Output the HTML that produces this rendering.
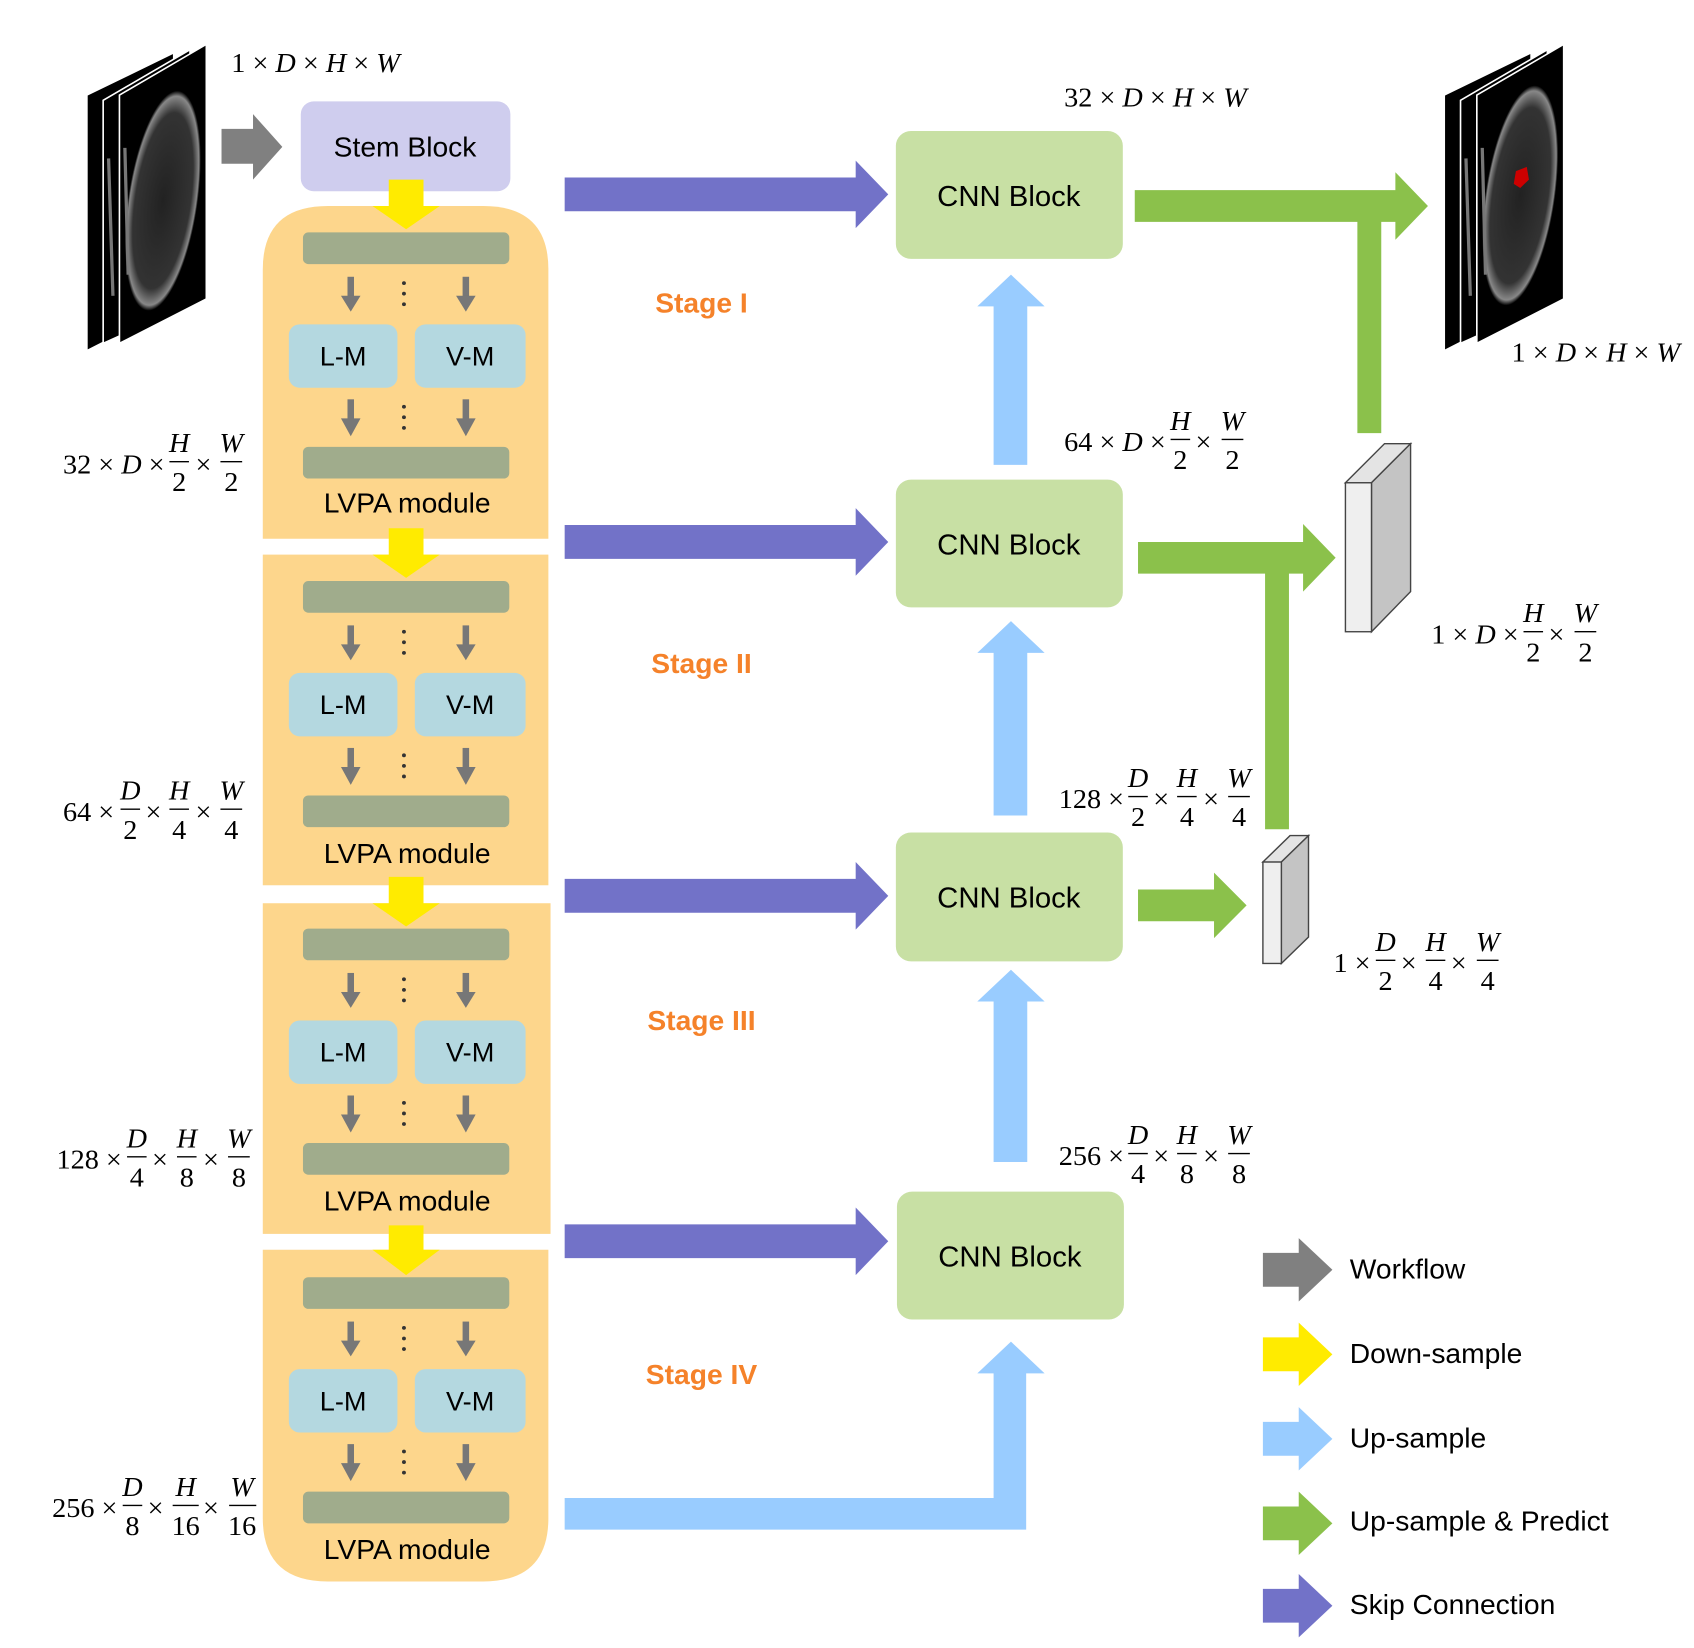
<!DOCTYPE html>
<html><head><meta charset="utf-8"><style>
html,body{margin:0;padding:0;background:#fff;}
svg{display:block;}
.s{font-family:"Liberation Sans",sans-serif;fill:#000;}
.m{font-family:"Liberation Serif",serif;font-size:26px;fill:#000;}
.i{font-style:italic;}
.st{font-family:"Liberation Sans",sans-serif;font-weight:bold;font-size:26px;fill:#f5822a;}
</style></head><body>
<svg width="1694" height="1648" viewBox="0 0 1560 1560" preserveAspectRatio="none" xmlns="http://www.w3.org/2000/svg">
<defs>
<radialGradient id="hd" cx="0.5" cy="0.5" r="0.5"><stop offset="0" stop-color="#222"/><stop offset="0.8" stop-color="#333"/><stop offset="0.95" stop-color="#888"/><stop offset="1" stop-color="#000"/></radialGradient>
</defs>
<!-- left MRI -->
<polygon points="80,90 160,50 160,290 80,332" fill="#000" stroke="#fff" stroke-width="1.5"/>
<polygon points="95,95 175,47 175,288 95,325" fill="#000" stroke="#fff" stroke-width="1.5"/>
<polygon points="110,90 190,42 190,283 110,325" fill="#000" stroke="#fff" stroke-width="1.5"/>
<ellipse cx="150" cy="190" rx="32" ry="105" fill="url(#hd)" transform="rotate(8 150 190)"/>
<path d="M100 150 L104 280 M115 140 L118 260" stroke="#777" stroke-width="3"/>
<!-- right MRI -->
<polygon points="1330,90 1410,50 1410,290 1330,332" fill="#000" stroke="#fff" stroke-width="1.5"/>
<polygon points="1345,95 1425,47 1425,288 1345,325" fill="#000" stroke="#fff" stroke-width="1.5"/>
<polygon points="1360,90 1440,42 1440,283 1360,325" fill="#000" stroke="#fff" stroke-width="1.5"/>
<ellipse cx="1400" cy="185" rx="32" ry="105" fill="url(#hd)" transform="rotate(8 1400 185)"/>
<path d="M1350 150 L1354 280 M1365 140 L1368 260" stroke="#777" stroke-width="3"/>
<polygon points="1396,162 1406,158 1408,170 1400,178 1394,174" fill="#c00"/>

<!-- gray workflow arrow -->
<polygon points="204,122 233,122 233,108 260,139 233,170 233,155 204,155" fill="#808080"/>
<!-- stem -->
<rect x="277" y="96" width="193" height="85" rx="12" fill="#cfcdee"/>
<text class="s" x="373" y="148" font-size="26" text-anchor="middle">Stem Block</text>

<!-- LVPA stages -->
<path d="M242 510 L242 255 Q242 195 302 195 L445 195 Q505 195 505 255 L505 510 Z" fill="#fdd68c"/>
<rect x="242" y="525" width="263" height="313" fill="#fdd68c"/>
<rect x="242" y="855" width="265" height="313" fill="#fdd68c"/>
<path d="M242 1183 L505 1183 L505 1437 Q505 1497 445 1497 L302 1497 Q242 1497 242 1437 Z" fill="#fdd68c"/>

<!-- yellow arrows -->
<g fill="#ffeb00">
<polygon points="358,170 390,170 390,195 405,195 374,217 343,195 358,195"/>
<polygon points="358,500 390,500 390,525 405,525 374,547 343,525 358,525"/>
<polygon points="358,830 390,830 390,855 405,855 374,877 343,855 358,855"/>
<polygon points="358,1160 390,1160 390,1183 405,1183 374,1207 343,1183 358,1183"/>
</g>

<g>
<rect x="279" y="220" width="190" height="30" rx="5" fill="#a0ac8c"/>
<g fill="#777"><rect x="320" y="262" width="6" height="20"/><polygon points="314,280 332,280 323,295"/><rect x="426" y="262" width="6" height="20"/><polygon points="420,280 438,280 429,295"/>
<circle cx="372" cy="268" r="1.8" fill="#333"/><circle cx="372" cy="278" r="1.8" fill="#333"/><circle cx="372" cy="288" r="1.8" fill="#333"/>
<rect x="320" y="378" width="6" height="20"/><polygon points="314,396 332,396 323,413"/><rect x="426" y="378" width="6" height="20"/><polygon points="420,396 438,396 429,413"/>
<circle cx="372" cy="385" r="1.8" fill="#333"/><circle cx="372" cy="395" r="1.8" fill="#333"/><circle cx="372" cy="405" r="1.8" fill="#333"/></g>
<rect x="266" y="307" width="100" height="60" rx="10" fill="#b4d8e0"/>
<rect x="382" y="307" width="102" height="60" rx="10" fill="#b4d8e0"/>
<text class="s" x="316" y="346" font-size="25" text-anchor="middle">L-M</text>
<text class="s" x="433" y="346" font-size="25" text-anchor="middle">V-M</text>
<rect x="279" y="423" width="190" height="30" rx="5" fill="#a0ac8c"/>
<text class="s" x="375" y="485" font-size="26" text-anchor="middle">LVPA module</text>
</g>
<g transform="translate(0,330)">
<rect x="279" y="220" width="190" height="30" rx="5" fill="#a0ac8c"/>
<g fill="#777"><rect x="320" y="262" width="6" height="20"/><polygon points="314,280 332,280 323,295"/><rect x="426" y="262" width="6" height="20"/><polygon points="420,280 438,280 429,295"/>
<circle cx="372" cy="268" r="1.8" fill="#333"/><circle cx="372" cy="278" r="1.8" fill="#333"/><circle cx="372" cy="288" r="1.8" fill="#333"/>
<rect x="320" y="378" width="6" height="20"/><polygon points="314,396 332,396 323,413"/><rect x="426" y="378" width="6" height="20"/><polygon points="420,396 438,396 429,413"/>
<circle cx="372" cy="385" r="1.8" fill="#333"/><circle cx="372" cy="395" r="1.8" fill="#333"/><circle cx="372" cy="405" r="1.8" fill="#333"/></g>
<rect x="266" y="307" width="100" height="60" rx="10" fill="#b4d8e0"/>
<rect x="382" y="307" width="102" height="60" rx="10" fill="#b4d8e0"/>
<text class="s" x="316" y="346" font-size="25" text-anchor="middle">L-M</text>
<text class="s" x="433" y="346" font-size="25" text-anchor="middle">V-M</text>
<rect x="279" y="423" width="190" height="30" rx="5" fill="#a0ac8c"/>
<text class="s" x="375" y="487" font-size="26" text-anchor="middle">LVPA module</text>
</g>
<g transform="translate(0,659)">
<rect x="279" y="220" width="190" height="30" rx="5" fill="#a0ac8c"/>
<g fill="#777"><rect x="320" y="262" width="6" height="20"/><polygon points="314,280 332,280 323,295"/><rect x="426" y="262" width="6" height="20"/><polygon points="420,280 438,280 429,295"/>
<circle cx="372" cy="268" r="1.8" fill="#333"/><circle cx="372" cy="278" r="1.8" fill="#333"/><circle cx="372" cy="288" r="1.8" fill="#333"/>
<rect x="320" y="378" width="6" height="20"/><polygon points="314,396 332,396 323,413"/><rect x="426" y="378" width="6" height="20"/><polygon points="420,396 438,396 429,413"/>
<circle cx="372" cy="385" r="1.8" fill="#333"/><circle cx="372" cy="395" r="1.8" fill="#333"/><circle cx="372" cy="405" r="1.8" fill="#333"/></g>
<rect x="266" y="307" width="100" height="60" rx="10" fill="#b4d8e0"/>
<rect x="382" y="307" width="102" height="60" rx="10" fill="#b4d8e0"/>
<text class="s" x="316" y="346" font-size="25" text-anchor="middle">L-M</text>
<text class="s" x="433" y="346" font-size="25" text-anchor="middle">V-M</text>
<rect x="279" y="423" width="190" height="30" rx="5" fill="#a0ac8c"/>
<text class="s" x="375" y="487" font-size="26" text-anchor="middle">LVPA module</text>
</g>
<g transform="translate(0,989)">
<rect x="279" y="220" width="190" height="30" rx="5" fill="#a0ac8c"/>
<g fill="#777"><rect x="320" y="262" width="6" height="20"/><polygon points="314,280 332,280 323,295"/><rect x="426" y="262" width="6" height="20"/><polygon points="420,280 438,280 429,295"/>
<circle cx="372" cy="268" r="1.8" fill="#333"/><circle cx="372" cy="278" r="1.8" fill="#333"/><circle cx="372" cy="288" r="1.8" fill="#333"/>
<rect x="320" y="378" width="6" height="20"/><polygon points="314,396 332,396 323,413"/><rect x="426" y="378" width="6" height="20"/><polygon points="420,396 438,396 429,413"/>
<circle cx="372" cy="385" r="1.8" fill="#333"/><circle cx="372" cy="395" r="1.8" fill="#333"/><circle cx="372" cy="405" r="1.8" fill="#333"/></g>
<rect x="266" y="307" width="100" height="60" rx="10" fill="#b4d8e0"/>
<rect x="382" y="307" width="102" height="60" rx="10" fill="#b4d8e0"/>
<text class="s" x="316" y="346" font-size="25" text-anchor="middle">L-M</text>
<text class="s" x="433" y="346" font-size="25" text-anchor="middle">V-M</text>
<rect x="279" y="423" width="190" height="30" rx="5" fill="#a0ac8c"/>
<text class="s" x="375" y="487" font-size="26" text-anchor="middle">LVPA module</text>
</g>

<!-- skip arrows -->
<g fill="#7272c8">
<polygon points="520,168 788,168 788,152 818,184 788,216 788,200 520,200"/>
<polygon points="520,497 788,497 788,481 818,513 788,545 788,529 520,529"/>
<polygon points="520,832 788,832 788,816 818,848 788,880 788,864 520,864"/>
<polygon points="520,1159 788,1159 788,1143 818,1175 788,1207 788,1191 520,1191"/>
</g>

<!-- CNN blocks -->
<g fill="#c8e0a4">
<rect x="825" y="124" width="209" height="121" rx="14"/>
<rect x="825" y="454" width="209" height="121" rx="14"/>
<rect x="825" y="788" width="209" height="122" rx="14"/>
<rect x="826" y="1128" width="209" height="121" rx="14"/>
</g>
<g class="s" font-size="27" text-anchor="middle">
<text x="929" y="195">CNN Block</text>
<text x="929" y="525">CNN Block</text>
<text x="929" y="859">CNN Block</text>
<text x="930" y="1199">CNN Block</text>
</g>

<!-- stage labels -->
<g class="st" text-anchor="middle">
<text x="646" y="296">Stage I</text>
<text x="646" y="637">Stage II</text>
<text x="646" y="975">Stage III</text>
<text x="646" y="1310">Stage IV</text>
</g>

<!-- blue up arrows -->
<g fill="#99ccff">
<polygon points="915,440 946,440 946,290 962,290 931,260 900,290 915,290"/>
<polygon points="915,772 946,772 946,618 962,618 931,588 900,618 915,618"/>
<polygon points="915,1100 946,1100 946,948 962,948 931,918 900,948 915,948"/>
<polygon points="520,1418 915,1418 915,1300 900,1300 931,1270 962,1300 945,1300 945,1448 520,1448"/>
</g>

<!-- green arrows -->
<g fill="#8bc14b">
<polygon points="1045,180 1285,180 1285,163 1315,195 1285,227 1285,210 1272,210 1272,410 1250,410 1250,210 1045,210"/>
<polygon points="1048,513 1200,513 1200,496 1230,528 1200,560 1200,543 1187,543 1187,785 1165,785 1165,543 1048,543"/>
<polygon points="1048,842 1118,842 1118,826 1148,857 1118,888 1118,872 1048,872"/>
</g>

<!-- cuboids -->
<g stroke="#444" stroke-width="1.3">
<polygon points="1239,457 1275,420 1299,420 1263,457" fill="#e4e4e4"/>
<polygon points="1263,457 1299,420 1299,560 1263,598" fill="#c4c4c4"/>
<rect x="1239" y="457" width="24" height="141" fill="#efefef"/>
<polygon points="1163,816 1188,791 1205,791 1180,816" fill="#e4e4e4"/>
<polygon points="1180,816 1205,791 1205,887 1180,912" fill="#c4c4c4"/>
<rect x="1163" y="816" width="17" height="96" fill="#efefef"/>
</g>

<!-- math labels -->
<g class="m">
<text x="213" y="68">1 × <tspan class="i">D</tspan> × <tspan class="i">H</tspan> × <tspan class="i">W</tspan></text>
<text x="980" y="101">32 × <tspan class="i">D</tspan> × <tspan class="i">H</tspan> × <tspan class="i">W</tspan></text>
<text x="1392" y="342">1 × <tspan class="i">D</tspan> × <tspan class="i">H</tspan> × <tspan class="i">W</tspan></text>

<text x="58" y="448">32 × <tspan class="i">D</tspan> ×</text>
<text x="165" y="428" text-anchor="middle" class="i">H</text><text x="165" y="465" text-anchor="middle">2</text>
<text x="180" y="448">×</text>
<text x="213" y="428" text-anchor="middle" class="i">W</text><text x="213" y="465" text-anchor="middle">2</text>

<text x="58" y="777">64 ×</text>
<text x="120" y="757" text-anchor="middle" class="i">D</text><text x="120" y="794" text-anchor="middle">2</text>
<text x="134" y="777">×</text>
<text x="165" y="757" text-anchor="middle" class="i">H</text><text x="165" y="794" text-anchor="middle">4</text>
<text x="180" y="777">×</text>
<text x="213" y="757" text-anchor="middle" class="i">W</text><text x="213" y="794" text-anchor="middle">4</text>

<text x="52" y="1106">128 ×</text>
<text x="126" y="1086" text-anchor="middle" class="i">D</text><text x="126" y="1123" text-anchor="middle">4</text>
<text x="140" y="1106">×</text>
<text x="172" y="1086" text-anchor="middle" class="i">H</text><text x="172" y="1123" text-anchor="middle">8</text>
<text x="187" y="1106">×</text>
<text x="220" y="1086" text-anchor="middle" class="i">W</text><text x="220" y="1123" text-anchor="middle">8</text>

<text x="48" y="1436">256 ×</text>
<text x="122" y="1416" text-anchor="middle" class="i">D</text><text x="122" y="1453" text-anchor="middle">8</text>
<text x="136" y="1436">×</text>
<text x="171" y="1416" text-anchor="middle" class="i">H</text><text x="171" y="1453" text-anchor="middle">16</text>
<text x="187" y="1436">×</text>
<text x="223" y="1416" text-anchor="middle" class="i">W</text><text x="223" y="1453" text-anchor="middle">16</text>

<text x="980" y="427">64 × <tspan class="i">D</tspan> ×</text>
<text x="1087" y="407" text-anchor="middle" class="i">H</text><text x="1087" y="444" text-anchor="middle">2</text>
<text x="1101" y="427">×</text>
<text x="1135" y="407" text-anchor="middle" class="i">W</text><text x="1135" y="444" text-anchor="middle">2</text>

<text x="975" y="765">128 ×</text>
<text x="1048" y="745" text-anchor="middle" class="i">D</text><text x="1048" y="782" text-anchor="middle">2</text>
<text x="1062" y="765">×</text>
<text x="1093" y="745" text-anchor="middle" class="i">H</text><text x="1093" y="782" text-anchor="middle">4</text>
<text x="1108" y="765">×</text>
<text x="1141" y="745" text-anchor="middle" class="i">W</text><text x="1141" y="782" text-anchor="middle">4</text>

<text x="975" y="1103">256 ×</text>
<text x="1048" y="1083" text-anchor="middle" class="i">D</text><text x="1048" y="1120" text-anchor="middle">4</text>
<text x="1062" y="1103">×</text>
<text x="1093" y="1083" text-anchor="middle" class="i">H</text><text x="1093" y="1120" text-anchor="middle">8</text>
<text x="1108" y="1103">×</text>
<text x="1141" y="1083" text-anchor="middle" class="i">W</text><text x="1141" y="1120" text-anchor="middle">8</text>

<text x="1318" y="609">1 × <tspan class="i">D</tspan> ×</text>
<text x="1412" y="589" text-anchor="middle" class="i">H</text><text x="1412" y="626" text-anchor="middle">2</text>
<text x="1426" y="609">×</text>
<text x="1460" y="589" text-anchor="middle" class="i">W</text><text x="1460" y="626" text-anchor="middle">2</text>

<text x="1228" y="920">1 ×</text>
<text x="1276" y="900" text-anchor="middle" class="i">D</text><text x="1276" y="937" text-anchor="middle">2</text>
<text x="1290" y="920">×</text>
<text x="1322" y="900" text-anchor="middle" class="i">H</text><text x="1322" y="937" text-anchor="middle">4</text>
<text x="1336" y="920">×</text>
<text x="1370" y="900" text-anchor="middle" class="i">W</text><text x="1370" y="937" text-anchor="middle">4</text>
</g>
<g stroke="#000" stroke-width="1.3">
<line x1="156" y1="437" x2="174" y2="437"/><line x1="203" y1="437" x2="223" y2="437"/>
<line x1="111" y1="766" x2="129" y2="766"/><line x1="156" y1="766" x2="174" y2="766"/><line x1="203" y1="766" x2="223" y2="766"/>
<line x1="117" y1="1095" x2="135" y2="1095"/><line x1="163" y1="1095" x2="181" y2="1095"/><line x1="210" y1="1095" x2="230" y2="1095"/>
<line x1="113" y1="1425" x2="131" y2="1425"/><line x1="159" y1="1425" x2="183" y2="1425"/><line x1="211" y1="1425" x2="236" y2="1425"/>
<line x1="1078" y1="416" x2="1096" y2="416"/><line x1="1125" y1="416" x2="1145" y2="416"/>
<line x1="1039" y1="754" x2="1057" y2="754"/><line x1="1084" y1="754" x2="1102" y2="754"/><line x1="1131" y1="754" x2="1151" y2="754"/>
<line x1="1039" y1="1092" x2="1057" y2="1092"/><line x1="1084" y1="1092" x2="1102" y2="1092"/><line x1="1131" y1="1092" x2="1151" y2="1092"/>
<line x1="1403" y1="598" x2="1421" y2="598"/><line x1="1450" y1="598" x2="1470" y2="598"/>
<line x1="1267" y1="909" x2="1285" y2="909"/><line x1="1313" y1="909" x2="1331" y2="909"/><line x1="1360" y1="909" x2="1380" y2="909"/>
</g>

<!-- legend -->
<polygon points="1163,1186 1196,1186 1196,1172 1227,1202 1196,1232 1196,1218 1163,1218" fill="#808080"/>
<polygon points="1163,1266 1196,1266 1196,1252 1227,1282 1196,1312 1196,1298 1163,1298" fill="#ffeb00"/>
<polygon points="1163,1346 1196,1346 1196,1332 1227,1362 1196,1392 1196,1378 1163,1378" fill="#99ccff"/>
<polygon points="1163,1426 1196,1426 1196,1412 1227,1442 1196,1472 1196,1458 1163,1458" fill="#8bc14b"/>
<polygon points="1163,1504 1196,1504 1196,1490 1227,1520 1196,1550 1196,1536 1163,1536" fill="#7272c8"/>
<g class="s" font-size="26">
<text x="1243" y="1210">Workflow</text>
<text x="1243" y="1290">Down-sample</text>
<text x="1243" y="1370">Up-sample</text>
<text x="1243" y="1449">Up-sample &amp; Predict</text>
<text x="1243" y="1528">Skip Connection</text>
</g>
</svg>
</body></html>
